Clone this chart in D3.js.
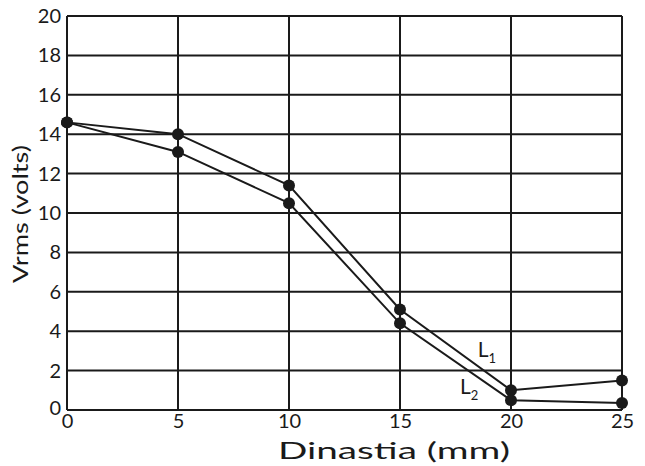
<!DOCTYPE html>
<html>
<head>
<meta charset="utf-8">
<script src="https://cdn.jsdelivr.net/npm/d3@7/dist/d3.min.js"></script>
<style>
  html, body { margin: 0; padding: 0; background: #fff; }
  svg { display: block; }
  text { font-family: "Lato", "Open Sans", sans-serif; fill: #1a1a1a; }
</style>
</head>
<body>
<svg id="chart" width="645" height="466"></svg>
<script>
const distances = [0, 5, 10, 15, 20, 25];
const l1Values = [14.6, 14.0, 11.4, 5.1, 1.0, 1.5];
const l2Values = [14.6, 13.1, 10.5, 4.4, 0.5, 0.35];
const xTicks = [0, 5, 10, 15, 20, 25];
const yTicks = [0, 2, 4, 6, 8, 10, 12, 14, 16, 18, 20];
const xTitle = "Dinastia (mm)";
const yTitle = "Vrms (volts)";

const svg = d3.select("#chart");
const margin = { left: 67, right: 23, top: 16, bottom: 56 };
const W = 645, H = 466;
const x = d3.scaleLinear().domain([0, 25]).range([margin.left, W - margin.right]);
const y = d3.scaleLinear().domain([0, 20]).range([H - margin.bottom, margin.top]);
const ink = "#1a1a1a";

// grid
const grid = svg.append("g");
grid.selectAll("line.h").data(yTicks).join("line")
  .attr("x1", x(0)).attr("x2", x(25))
  .attr("y1", d => y(d)).attr("y2", d => y(d))
  .attr("stroke", ink).attr("stroke-width", 2);
grid.selectAll("line.v").data(xTicks).join("line")
  .attr("y1", y(0)).attr("y2", y(20))
  .attr("x1", d => x(d)).attr("x2", d => x(d))
  .attr("stroke", ink).attr("stroke-width", 2);

// axes
const xAxis = svg.append("g").attr("transform", `translate(0,${y(0)})`)
  .call(d3.axisBottom(x).tickValues(xTicks).tickSize(0).tickPadding(4));
xAxis.select(".domain").remove();
xAxis.selectAll("text").style("font-size", "20px").attr("fill", ink);

const yAxis = svg.append("g").attr("transform", `translate(${x(0)},0)`)
  .call(d3.axisLeft(y).tickValues(yTicks).tickSize(0).tickPadding(6));
yAxis.select(".domain").remove();
yAxis.selectAll("text").style("font-size", "20px").attr("fill", ink);
yAxis.selectAll(".tick").filter(d => d === 0).select("text").attr("dy", "0.2em");

// titles
svg.append("text").attr("x", 394).attr("y", 459)
  .attr("text-anchor", "middle").style("font-size", "23px")
  .attr("textLength", 232).attr("lengthAdjust", "spacingAndGlyphs")
  .text(xTitle);
svg.append("text").attr("transform", `translate(28,${214}) rotate(-90)`)
  .attr("text-anchor", "middle").style("font-size", "21px")
  .attr("textLength", 138).attr("lengthAdjust", "spacingAndGlyphs")
  .text(yTitle);

// lines
const line = d3.line().x((d, i) => x(distances[i])).y(d => y(d));
[l1Values, l2Values].forEach(vals => {
  svg.append("path").datum(vals).attr("d", line)
    .attr("fill", "none").attr("stroke", ink).attr("stroke-width", 2);
});
[l1Values, l2Values].forEach(vals => {
  svg.append("g").selectAll("circle").data(vals).join("circle")
    .attr("cx", (d, i) => x(distances[i])).attr("cy", d => y(d))
    .attr("r", 6).attr("fill", ink);
});

// series labels
function seriesLabel(px, py, sub) {
  const t = svg.append("text").attr("x", px).attr("y", py).style("font-size", "21px");
  t.append("tspan").text("L");
  t.append("tspan").attr("dy", 6).style("font-size", "13px").text(sub);
}
seriesLabel(x(18.5), y(2.7), "1");
seriesLabel(x(17.7), y(0.8), "2");
</script>
</body>
</html>
